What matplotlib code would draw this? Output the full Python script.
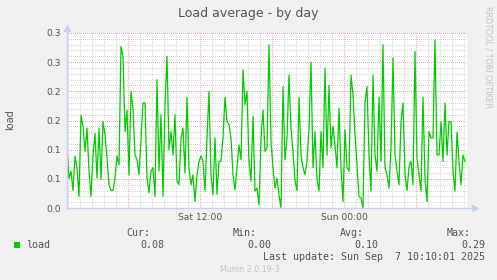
import matplotlib
matplotlib.use('Agg')
import matplotlib.pyplot as plt
import matplotlib.colors as mcolors
import numpy as np

# ---------------- data ----------------
load = [
    0.108, 0.051, 0.063, 0.030, 0.089, 0.069, 0.020, 0.159, 0.140, 0.097,
    0.137, 0.063, 0.020, 0.091, 0.128, 0.051, 0.137, 0.049, 0.148, 0.126,
    0.086, 0.040, 0.030, 0.030, 0.051, 0.089, 0.074, 0.277, 0.260, 0.131,
    0.168, 0.057, 0.200, 0.170, 0.091, 0.083, 0.057, 0.120, 0.180, 0.180,
    0.051,
    0.026, 0.063, 0.069, 0.020, 0.220, 0.063, 0.160, 0.020, 0.177, 0.260,
    0.100, 0.131, 0.091, 0.160, 0.046, 0.040, 0.120, 0.137, 0.060, 0.190,
    0.069, 0.040, 0.057, 0.011, 0.057, 0.080, 0.089, 0.080, 0.029, 0.120,
    0.200, 0.057, 0.023, 0.120, 0.023, 0.080, 0.080, 0.120, 0.190, 0.148,
    0.143,
    0.120, 0.057, 0.031, 0.069, 0.108, 0.083, 0.237, 0.177, 0.200, 0.080,
    0.046, 0.157, 0.029, 0.034, 0.005, 0.120, 0.168, 0.097, 0.103, 0.280,
    0.114, 0.069, 0.034, 0.051, 0.023, 0.000, 0.208, 0.083, 0.120, 0.228,
    0.137, 0.097, 0.046, 0.030, 0.190, 0.091, 0.069, 0.057, 0.080, 0.137,
    0.250,
    0.069, 0.131, 0.049, 0.029, 0.131, 0.069, 0.240, 0.091, 0.210, 0.103,
    0.140, 0.108, 0.069, 0.171, 0.069, 0.011, 0.134, 0.069, 0.063, 0.228,
    0.194, 0.126, 0.074, 0.020, 0.017, 0.000, 0.180, 0.208, 0.091, 0.029,
    0.228, 0.091, 0.063, 0.190, 0.080, 0.280, 0.069, 0.057, 0.034, 0.103,
    0.257,
    0.091, 0.063, 0.040, 0.148, 0.180, 0.057, 0.030, 0.070, 0.080, 0.040,
    0.268, 0.086, 0.057, 0.029, 0.190, 0.051, 0.011, 0.131, 0.120, 0.120,
    0.288, 0.091, 0.091, 0.148, 0.080, 0.180, 0.091, 0.148, 0.148, 0.063,
    0.029, 0.130, 0.080, 0.040, 0.091, 0.080,
]
start_hour = 55 / 60.0          # Sat 00:55 (hours since Sat 00:00)
step_minutes = 10
x_range_hours = (55 / 60.0, 55 / 60.0 + 2000 / 60.0)

x_ticks = [12, 24]
x_tick_labels = ['Sat 12:00', 'Sun 00:00']
y_ticks = [0.0, 0.05, 0.10, 0.15, 0.20, 0.25, 0.30]
y_tick_labels = ['0.0', '0.1', '0.1', '0.2', '0.2', '0.3', '0.3']

series_name = 'load'
stat_names = ['Cur:', 'Min:', 'Avg:', 'Max:']
stat_values = ['0.08', '0.00', '0.10', '0.29']
title = 'Load average - by day'
last_update = 'Last update: Sun Sep  7 10:10:01 2025'
footer = 'Munin 2.0.19-3'
watermark = 'RRDTOOL / TOBI OETIKER'

hours = start_hour + np.arange(len(load)) * step_minutes / 60.0

# ---------------- layout ----------------
W, H, DPI = 497, 280, 100
PW, PH = 400, 175
def fx(px): return px / W
def fy(py): return 1 - py / H

BG = '#F0F0F0'
FONT = '#555555'
AXIS = '#C8CFF5'
GREEN = '#00CC00'
MINOR = '#d9d9d9'
MAJOR = '#f0a4a4'

fig = plt.figure(figsize=(W / DPI, H / DPI), dpi=DPI, facecolor=BG)
ax = fig.add_axes([fx(67), fy(208), PW / W, PH / H])
ax.set_facecolor('white')
x0, x1 = x_range_hours
y0, y1 = 0.0, 0.30
ax.set_xlim(x0, x1)
ax.set_ylim(y0, y1)

# dotted grid rendered pixel-exact as an overlay image
grid = np.zeros((PH, PW, 4))
def col_of(h): return int(round((h - x0) / (x1 - x0) * PW))
def row_of(v): return int(round((y1 - v) / (y1 - y0) * PH))
def hline(v, color):
    r = min(max(row_of(v), 0), PH - 1)
    grid[r, 0::2] = mcolors.to_rgba(color)
def vline(h, color):
    c = col_of(h)
    if 0 <= c < PW:
        grid[0::2, c] = mcolors.to_rgba(color)
for h in np.arange(1, x1, 1):
    if h % 6:
        vline(h, MINOR)
for k in range(1, 30):
    if k % 5:
        hline(k / 100.0, MINOR)
for h in np.arange(6, x1, 6):
    vline(h, MAJOR)
for v in y_ticks[1:]:
    hline(v, MAJOR)
ax.imshow(grid, extent=(x0, x1, y0, y1), aspect='auto',
          interpolation='nearest', zorder=1)

ax.plot(hours, load, color=GREEN, linewidth=0.9, zorder=3)

# ticks and labels
ax.set_yticks(y_ticks)
ax.set_yticklabels(y_tick_labels)
ax.set_xticks(x_ticks)
ax.set_xticklabels(x_tick_labels)
ax.tick_params(which='both', length=0)
ax.tick_params(axis='y', pad=4.6, labelsize=6.6, labelcolor=FONT)
ax.tick_params(axis='x', pad=3.3, labelsize=6.6, labelcolor=FONT)

for s in ['top', 'right', 'left', 'bottom']:
    ax.spines[s].set_visible(False)

# axes with arrows
ax.plot([0, 1.02], [0, 0], transform=ax.transAxes, color=AXIS, lw=1.0,
        clip_on=False, zorder=4)
ax.plot([0, 0], [0, 1.03], transform=ax.transAxes, color=AXIS, lw=1.0,
        clip_on=False, zorder=4)
ax.plot([1.02], [0], transform=ax.transAxes, marker='>', color=AXIS,
        markersize=4.5, clip_on=False, zorder=4)
ax.plot([0], [1.03], transform=ax.transAxes, marker='^', color=AXIS,
        markersize=4.5, clip_on=False, zorder=4)

# texts
fig.text(fx(248), fy(14), title, ha='center', va='center', fontsize=9,
         color=FONT, family='DejaVu Sans')
fig.text(fx(10), fy(120), 'load', ha='center', va='center', rotation=90,
         fontsize=7, color=FONT, family='DejaVu Sans')
fig.text(fx(488), fy(57), watermark, ha='center', va='center', rotation=270,
         fontsize=5.8, color='#c4c4c4', family='DejaVu Sans')

mono = dict(family='DejaVu Sans Mono', fontsize=7.2, color=FONT)
fig.patches.append(plt.Rectangle((fx(14), fy(248)), 6 / W, 6 / H,
                                 transform=fig.transFigure, facecolor=GREEN,
                                 edgecolor='none'))
fig.text(fx(26), fy(245), series_name, ha='left', va='center', **mono)

head_right = [150, 257, 364, 471]
val_right = [164, 271, 378, 485]
for n, v, hr, vr in zip(stat_names, stat_values, head_right, val_right):
    fig.text(fx(hr), fy(232.5), n, ha='right', va='center', **mono)
    fig.text(fx(vr), fy(245), v, ha='right', va='center', **mono)
fig.text(fx(485), fy(257), last_update, ha='right', va='center', **mono)
fig.text(fx(249.5), fy(269), footer, ha='center', va='center', fontsize=5.8,
         color='#c4c4c4', family='DejaVu Sans')

fig.savefig('out.png', dpi=DPI, facecolor=BG)
